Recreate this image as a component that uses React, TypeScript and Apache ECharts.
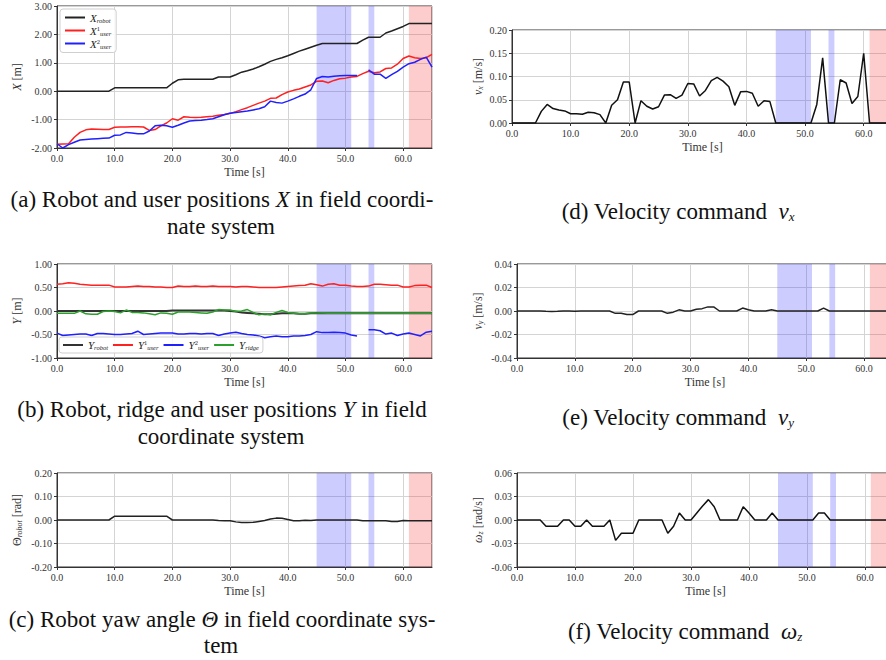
import React, { useEffect, useRef } from 'react';
import * as echarts from 'echarts';

// sample times [s]
const time = [0,1,2,3,4,5,6,7,8,9,10,11,12,13,14,15,16,17,18,19,20,21,22,23,24,25,26,27,28,29,30,31,32,33,34,35,36,37,38,39,40,41,42,43,44,45,46,47,48,49,50,51,52,53,54,55,56,57,58,59,60,61,62,63,64,65];

// (a) X positions [m]
const xRobot = [0,0,0,0,0,0,0,0,0,0,0.12,0.12,0.12,0.12,0.12,0.12,0.12,0.12,0.12,0.12,0.28,0.4,0.42,0.42,0.42,0.42,0.42,0.42,0.5,0.5,0.5,0.58,0.67,0.72,0.78,0.86,0.95,1.05,1.12,1.18,1.25,1.33,1.41,1.48,1.55,1.62,1.68,1.68,1.68,1.68,1.68,1.68,1.68,1.8,1.9,1.9,1.9,2.05,2.12,2.2,2.28,2.38,2.38,2.38,2.38,2.38];
const xUser1 = [-1.87,-1.86,-1.85,-1.62,-1.45,-1.36,-1.33,-1.34,-1.35,-1.35,-1.27,-1.26,-1.26,-1.25,-1.25,-1.26,-1.38,-1.35,-1.22,-1.12,-0.97,-1.02,-0.9,-0.92,-0.93,-0.92,-0.9,-0.88,-0.85,-0.82,-0.78,-0.72,-0.65,-0.58,-0.5,-0.42,-0.35,-0.25,-0.24,-0.12,-0.03,0.03,0.08,0.15,0.22,0.35,0.36,0.3,0.38,0.44,0.46,0.5,0.52,0.62,0.7,0.65,0.68,0.8,0.82,0.95,1.15,1.24,1.18,1.15,1.18,1.3];
const xUser2 = [-1.85,-2.0,-1.88,-1.8,-1.72,-1.7,-1.68,-1.67,-1.66,-1.65,-1.55,-1.54,-1.45,-1.47,-1.5,-1.5,-1.4,-1.22,-1.2,-1.22,-1.27,-1.2,-1.12,-1.05,-1.03,-1.02,-1.0,-0.97,-0.9,-0.83,-0.78,-0.75,-0.72,-0.7,-0.66,-0.62,-0.55,-0.35,-0.4,-0.42,-0.35,-0.27,-0.18,-0.1,0.05,0.45,0.52,0.5,0.53,0.54,0.55,0.55,0.55,null,0.75,0.6,0.6,0.45,0.58,0.7,0.85,0.97,1.02,1.12,1.2,0.85];

// (b) Y positions [m]
const yRobot = [0,0,0,0,0,0,0,0,0,0,0,0,0,0,0,0,0,0,0,0,0.01,0.01,0.01,0.01,0.01,0.01,0.01,0.01,0.01,0.01,0,-0.01,-0.03,-0.04,-0.05,-0.06,-0.07,-0.07,-0.06,-0.05,-0.05,-0.05,-0.06,-0.06,-0.05,-0.04,-0.05,-0.05,-0.05,-0.05,-0.05,-0.05,-0.05,-0.05,-0.05,-0.05,-0.05,-0.05,-0.05,-0.05,-0.05,-0.05,-0.05,-0.05,-0.05,-0.05];
const yUser1 = [0.57,0.58,0.6,0.59,0.57,0.56,0.55,0.55,0.55,0.55,0.51,0.51,0.51,0.52,0.53,0.52,0.52,0.51,0.51,0.5,0.5,0.53,0.52,0.52,0.53,0.52,0.52,0.53,0.52,0.52,0.52,0.51,0.52,0.52,0.51,0.5,0.5,0.5,0.5,0.51,0.52,0.53,0.54,0.55,0.58,0.56,0.53,0.57,0.58,0.55,0.55,0.53,0.52,0.52,0.53,0.57,0.57,0.56,0.55,0.55,0.51,0.51,0.54,0.55,0.55,0.5];
const yUser2 = [-0.47,-0.52,-0.51,-0.5,-0.49,-0.49,-0.52,-0.48,-0.48,-0.49,-0.5,-0.5,-0.49,-0.48,-0.43,-0.5,-0.49,-0.48,-0.47,-0.47,-0.47,-0.49,-0.49,-0.48,-0.48,-0.49,-0.48,-0.48,-0.52,-0.49,-0.47,-0.45,-0.48,-0.5,-0.51,-0.53,-0.57,-0.55,-0.53,-0.55,-0.55,-0.53,-0.53,-0.52,-0.5,-0.44,-0.46,-0.46,-0.45,-0.46,-0.47,-0.51,-0.53,null,-0.4,-0.4,-0.42,-0.49,-0.47,-0.52,-0.49,-0.47,-0.5,-0.53,-0.45,-0.43];
const yRidge = [-0.05,-0.05,-0.05,-0.05,0.0,-0.06,-0.07,-0.07,-0.01,0.0,-0.01,-0.04,0.02,-0.03,-0.03,-0.04,-0.06,-0.08,-0.04,-0.05,-0.07,-0.02,-0.02,-0.02,-0.03,-0.04,-0.05,-0.02,0.03,0.02,0.02,-0.01,0.0,0.03,-0.03,-0.08,-0.06,-0.08,-0.03,0.01,-0.03,-0.05,-0.06,-0.06,-0.04,-0.04,-0.04,-0.05,-0.05,-0.05,-0.05,-0.05,-0.05,-0.05,-0.05,-0.05,-0.05,-0.05,-0.05,-0.05,-0.05,-0.05,-0.05,-0.05,-0.05,-0.05];

// (c) yaw angle [rad]
const theta = [0,0,0,0,0,0,0,0,0,0,0.016,0.016,0.016,0.016,0.016,0.016,0.016,0.016,0.016,0.016,0,0,0,0,0,0,0,0,-0.002,-0.003,-0.003,-0.008,-0.011,-0.011,-0.01,-0.006,-0.002,0.004,0.008,0.007,0.002,-0.003,-0.003,-0.001,-0.002,0,0,0,0,0,0,0,0,-0.003,-0.003,-0.003,-0.003,-0.003,-0.006,-0.006,-0.002,-0.003,-0.003,-0.003,-0.003,-0.003];

// (d) v_x [m/s]
const vx = [0,0,0,0,0,0.025,0.04,0.031,0.028,0.026,0.02,0.02,0.019,0.023,0.022,0.018,0,0.038,0.05,0.088,0.088,0,0.048,0.036,0.03,0.035,0.06,0.061,0.053,0.06,0.085,0.084,0.058,0.07,0.091,0.098,0.09,0.078,0.038,0.067,0.068,0.064,0.036,0.048,0.046,0,0,0,0,0,0,0,0.04,0.14,0,0,0.093,0.086,0.042,0.057,0.15,0,0,0,0,0];

// (e) v_y [m/s]
const vy = [0,0,0,0,0,-0.0003,-0.0005,-0.0003,0,0,-0.0002,0,0,0,0,0,0,-0.002,-0.002,-0.003,-0.003,0,0,0,0,0,-0.002,-0.001,0.001,0,0,0.0015,0.002,0.0035,0.0035,0,0,0,0,0.0025,0.001,0,0,0,0.001,0,0,0,0,0,0,0,0,0.0025,0,0,0,0,0,0,0,0,0,0,0,0];

// (f) omega_z [rad/s]
const wz = [0,0,0,0,0,-0.008,-0.008,-0.008,0,0,-0.008,-0.008,0,-0.008,-0.008,-0.008,0,-0.026,-0.017,-0.017,-0.017,0,0,0,0,0,-0.017,-0.008,0.009,0,0,0.009,0.018,0.026,0.017,0,0,0,0,0.017,0.009,0,0,0,0.009,0,0,0,0,0,0,0,0.009,0.009,0,0,0,0,0,0,0,0,0,0,0,0];

// shaded intervals [s]
const shadeStart = [45, 54, 61];
const shadeEnd = [51, 55, 65];
const shadeKind = ['blue', 'blue', 'red'];

// axis ranges
const yMin = [-2, -1, -0.2, 0, -0.04, -0.06];
const yMax = [3, 1, 0.2, 0.2, 0.04, 0.06];
const yStep = [1, 0.5, 0.1, 0.05, 0.02, 0.03];
const xMin = 0;
const xMax = 65;
const xStep = 10;

const SERIF = '"Liberation Serif","Times New Roman","DejaVu Serif",serif';

const pairs = (vals: (number | null)[]) => vals.map((v, i) => [time[i], v == null ? '-' : v]);

const nameRich = {
  i: { fontFamily: SERIF, fontSize: 12, fontStyle: 'italic', color: '#333' },
  n: { fontFamily: SERIF, fontSize: 12, color: '#333' },
  s: { fontFamily: SERIF, fontSize: 8, fontStyle: 'italic', color: '#333', verticalAlign: 'bottom', lineHeight: 8 },
  t: { fontFamily: SERIF, fontSize: 12, color: '#333' },
};

const legendRich = {
  i: { fontFamily: SERIF, fontSize: 11, fontStyle: 'italic', color: '#222', lineHeight: 12 },
  s: { fontFamily: SERIF, fontSize: 6.5, fontStyle: 'italic', color: '#222', verticalAlign: 'bottom', lineHeight: 6 },
  p: { fontFamily: SERIF, fontSize: 6.5, color: '#222', verticalAlign: 'top', lineHeight: 6 },
};

const legendLabel: Record<string, string> = {
  X_robot: '{i|X}{s|robot}',
  X_user1: '{i|X}{p|1}{s|user}',
  X_user2: '{i|X}{p|2}{s|user}',
  Y_robot: '{i|Y}{s|robot}',
  Y_user1: '{i|Y}{p|1}{s|user}',
  Y_user2: '{i|Y}{p|2}{s|user}',
  Y_ridge: '{i|Y}{s|ridge}',
};

const CAP = 23;
const capRich = {
  it: { fontFamily: SERIF, fontSize: CAP, fontStyle: 'italic', color: '#111' },
  sub: { fontFamily: SERIF, fontSize: 13, fontStyle: 'italic', color: '#111', verticalAlign: 'bottom', lineHeight: 10 },
};

export default function App() {
  const ref = useRef<HTMLDivElement>(null);
  useEffect(() => {
    if (!ref.current) return;
    const chart = echarts.init(ref.current, undefined, { renderer: 'svg' });

    const grids = [
      { left: 57, top: 6, width: 375, height: 142 },
      { left: 57, top: 264, width: 375, height: 94 },
      { left: 57, top: 473, width: 375, height: 94 },
      { left: 512, top: 30, width: 381, height: 93 },
      { left: 517, top: 264, width: 376, height: 94 },
      { left: 517, top: 473, width: 377, height: 94 },
    ];
    const yNames = [
      '{i|X} {t|[m]}',
      '{i|Y} {t|[m]}',
      '{n|Θ}{s|robot} {t|[rad]}',
      '{i|v}{s|x} {t|[m/s]}',
      '{i|v}{s|y} {t|[m/s]}',
      '{i|ω}{s|z} {t|[rad/s]}',
    ];
    const yGaps = [34, 34, 34, 28, 33, 33];

    const markArea = {
      silent: true,
      data: shadeStart.map((s, k) => [
        { xAxis: s, itemStyle: { color: shadeKind[k] === 'blue' ? 'rgba(40,40,255,0.24)' : 'rgba(245,40,40,0.24)' } },
        { xAxis: shadeEnd[k] },
      ]),
    };

    const line = (name: string, vals: (number | null)[], color: string, idx: number, withArea: boolean, width = 1.5) => ({
      type: 'line',
      name,
      xAxisIndex: idx,
      yAxisIndex: idx,
      data: pairs(vals),
      showSymbol: false,
      symbol: 'none',
      lineStyle: { color, width },
      itemStyle: { color },
      connectNulls: false,
      silent: true,
      z: 3,
      ...(withArea ? { markArea } : {}),
    });

    const legendBase = {
      icon: 'rect',
      itemWidth: 20,
      itemHeight: 2,
      borderColor: '#cfcfcf',
      borderWidth: 1,
      borderRadius: 3,
      backgroundColor: 'rgba(255,255,255,0.85)',
      formatter: (n: string) => legendLabel[n] || n,
      textStyle: { fontFamily: SERIF, fontSize: 11, color: '#222', rich: legendRich },
    };

    const option: any = {
      animation: false,
      backgroundColor: '#fff',
      grid: grids.map((g) => ({
        ...g,
        show: true,
        borderColor: '#333',
        borderWidth: 1,
        backgroundColor: 'transparent',
        containLabel: false,
        outerBoundsMode: 'none',
      })),
      xAxis: grids.map((_, i) => ({
        type: 'value',
        gridIndex: i,
        min: xMin,
        max: xMax,
        interval: xStep,
        name: 'Time [s]',
        nameLocation: 'middle',
        nameGap: 18,
        nameTextStyle: { fontFamily: SERIF, fontSize: 12, color: '#333' },
        axisLine: { show: true, onZero: false, lineStyle: { color: '#333', width: 1 } },
        axisTick: { show: true, inside: false, length: 3, lineStyle: { color: '#333' } },
        axisLabel: {
          margin: 5,
          fontFamily: SERIF,
          fontSize: 10,
          color: '#333',
          showMaxLabel: false,
          formatter: (v: number) => (v > 60 ? '' : v.toFixed(1)),
        },
        splitLine: { show: true, lineStyle: { color: '#d4d4d4', width: 1 } },
      })),
      yAxis: grids.map((_, i) => ({
        type: 'value',
        gridIndex: i,
        min: yMin[i],
        max: yMax[i],
        interval: yStep[i],
        name: yNames[i],
        nameLocation: 'middle',
        nameGap: yGaps[i],
        nameRotate: 90,
        nameTextStyle: { fontFamily: SERIF, fontSize: 12, color: '#333', rich: nameRich },
        axisLine: { show: true, onZero: false, lineStyle: { color: '#333', width: 1 } },
        axisTick: { show: true, inside: false, length: 3, lineStyle: { color: '#333' } },
        axisLabel: {
          margin: 5,
          fontFamily: SERIF,
          fontSize: 10,
          color: '#333',
          formatter: (v: number) => (Math.abs(v) < 1e-9 ? '0.00' : v.toFixed(2)),
        },
        splitLine: { show: true, lineStyle: { color: '#d4d4d4', width: 1 } },
      })),
      legend: [
        {
          ...legendBase,
          orient: 'vertical',
          left: 60,
          top: 9,
          data: ['X_robot', 'X_user1', 'X_user2'],
          itemGap: 1,
          padding: [3, 5, 3, 5],
        },
        {
          ...legendBase,
          orient: 'horizontal',
          left: 59,
          top: 337,
          data: ['Y_robot', 'Y_user1', 'Y_user2', 'Y_ridge'],
          itemGap: 5,
          padding: [2, 4, 2, 4],
        },
      ],
      series: [
        line('X_robot', xRobot, '#222222', 0, true),
        line('X_user1', xUser1, '#ff2020', 0, false),
        line('X_user2', xUser2, '#2020ff', 0, false),
        line('Y_robot', yRobot, '#333333', 1, true, 2),
        line('Y_user1', yUser1, '#ff2020', 1, false),
        line('Y_user2', yUser2, '#2020ff', 1, false),
        line('Y_ridge', yRidge, '#2ca02c', 1, false),
        line('Theta_robot', theta, '#222222', 2, true),
        line('v_x', vx, '#111111', 3, true),
        line('v_y', vy, '#222222', 4, true),
        line('omega_z', wz, '#111111', 5, true),
      ],
      graphic: [
        { type: 'text', x: 222, y: 199, style: { text: '(a) Robot and user positions {it|X} in field coordi-', fontFamily: SERIF, fontSize: CAP, fill: '#111', align: 'center', verticalAlign: 'middle', rich: capRich } },
        { type: 'text', x: 221, y: 226, style: { text: 'nate system', fontFamily: SERIF, fontSize: CAP, fill: '#111', align: 'center', verticalAlign: 'middle' } },
        { type: 'text', x: 222, y: 409, style: { text: '(b) Robot, ridge and user positions {it|Y} in field', fontFamily: SERIF, fontSize: CAP, fill: '#111', align: 'center', verticalAlign: 'middle', rich: capRich } },
        { type: 'text', x: 221, y: 436, style: { text: 'coordinate system', fontFamily: SERIF, fontSize: CAP, fill: '#111', align: 'center', verticalAlign: 'middle' } },
        { type: 'text', x: 222, y: 619, style: { text: '(c) Robot yaw angle {it|Θ} in field coordinate sys-', fontFamily: SERIF, fontSize: CAP, fill: '#111', align: 'center', verticalAlign: 'middle', rich: capRich } },
        { type: 'text', x: 221, y: 645, style: { text: 'tem', fontFamily: SERIF, fontSize: CAP, fill: '#111', align: 'center', verticalAlign: 'middle' } },
        { type: 'text', x: 678, y: 211, style: { text: '(d) Velocity command  {it|v}{sub|x}', fontFamily: SERIF, fontSize: CAP, fill: '#111', align: 'center', verticalAlign: 'middle', rich: capRich } },
        { type: 'text', x: 678, y: 417, style: { text: '(e) Velocity command  {it|v}{sub|y}', fontFamily: SERIF, fontSize: CAP, fill: '#111', align: 'center', verticalAlign: 'middle', rich: capRich } },
        { type: 'text', x: 685, y: 631, style: { text: '(f) Velocity command  {it|ω}{sub|z}', fontFamily: SERIF, fontSize: CAP, fill: '#111', align: 'center', verticalAlign: 'middle', rich: capRich } },
      ],
    };
    chart.setOption(option);
    return () => chart.dispose();
  }, []);
  return (
    <div
      ref={ref}
      style={{ position: 'absolute', left: 0, top: 0, width: 886, height: 660, background: '#fff' }}
    />
  );
}
